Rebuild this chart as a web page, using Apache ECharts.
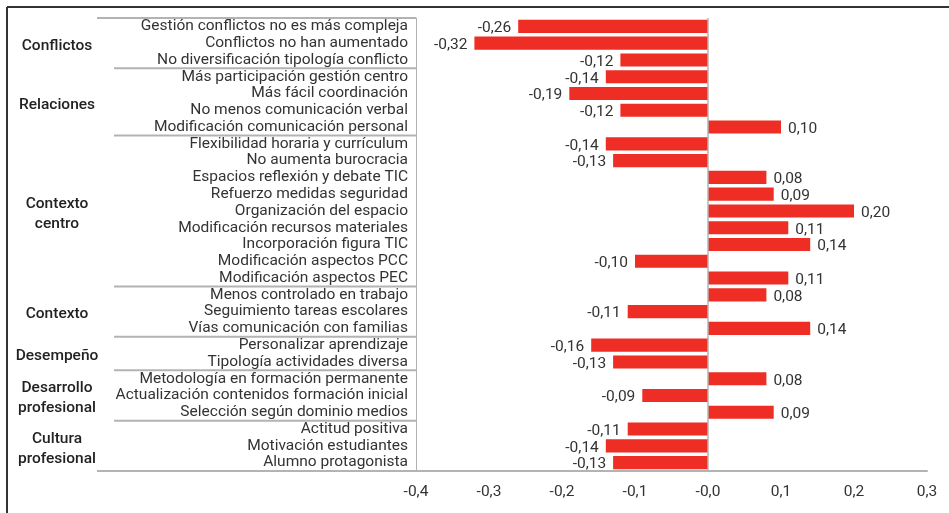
<!DOCTYPE html>
<html>
<head>
<meta charset="utf-8">
<script src="https://cdn.jsdelivr.net/npm/echarts@6/dist/echarts.min.js"></script>
<style>
html,body{margin:0;padding:0;background:#fff;}
#chart{width:949px;height:513px;}
</style>
</head>
<body>
<div id="chart"></div>
<script>
var categories = [
  'Gestión conflictos no es más compleja',
  'Conflictos no han aumentado',
  'No diversificación tipología conflicto',
  'Más participación gestión centro',
  'Más fácil coordinación',
  'No menos comunicación verbal',
  'Modificación comunicación personal',
  'Flexibilidad horaria y currículum',
  'No aumenta burocracia',
  'Espacios reflexión y debate TIC',
  'Refuerzo medidas seguridad',
  'Organización del espacio',
  'Modificación recursos materiales',
  'Incorporación figura TIC',
  'Modificación aspectos PCC',
  'Modificación aspectos PEC',
  'Menos controlado en trabajo',
  'Seguimiento tareas escolares',
  'Vías comunicación con familias',
  'Personalizar aprendizaje',
  'Tipología actividades diversa',
  'Metodología en formación permanente',
  'Actualización contenidos formación inicial',
  'Selección según dominio medios',
  'Actitud positiva',
  'Motivación estudiantes',
  'Alumno protagonista'
];
var values = [-0.26, -0.32, -0.12, -0.14, -0.19, -0.12, 0.10, -0.14, -0.13, 0.08, 0.09, 0.20,
  0.11, 0.14, -0.10, 0.11, 0.08, -0.11, 0.14, -0.16, -0.13, 0.08, -0.09, 0.09, -0.11, -0.14, -0.13];
var groupNames = ['Conflictos', 'Relaciones', 'Contexto\ncentro', 'Contexto', 'Desempeño', 'Desarrollo\nprofesional', 'Cultura\nprofesional'];
var groupSizes = [3, 4, 9, 3, 2, 3, 3];
var xTickLabels = ['-0,4', '-0,3', '-0,2', '-0,1', '-0,0', '0,1', '0,2', '0,3'];

var FONT = 'Roboto';
var FS = 15.5;
var chart = echarts.init(document.getElementById('chart'));

chart.setOption({
  animation: false,
  grid: { left: 416, right: 22, top: 18, bottom: 42 },
  xAxis: {
    type: 'value',
    min: -0.4, max: 0.3, interval: 0.1,
    axisLine: { show: true, onZero: false, lineStyle: { color: '#b3b3b3', width: 2 } },
    axisTick: { show: false },
    splitLine: { show: false },
    axisLabel: {
      margin: 13, color: '#333', fontSize: FS, fontFamily: FONT,
      formatter: function (v) { return xTickLabels[Math.round((v + 0.4) * 10)]; }
    }
  },
  yAxis: {
    type: 'category',
    inverse: true,
    data: categories,
    axisLine: { show: true, onZero: false, lineStyle: { color: '#b3b3b3', width: 1 } },
    axisTick: { show: false },
    axisLabel: { interval: 0, margin: 8, color: '#333', fontSize: FS, fontFamily: FONT, lineHeight: 16 }
  },
  series: [{
    type: 'bar',
    data: values.map(function (v) {
      return {
        value: v,
        label: { position: v < 0 ? 'left' : 'right' }
      };
    }),
    barCategoryGap: '22%',
    itemStyle: { color: '#ee2e24' },
    label: {
      show: true, distance: 7, color: '#333', fontSize: FS, fontFamily: FONT,
      offset: [0, 2],
      formatter: function (p) { return p.value.toFixed(2).replace('.', ','); }
    },
    markLine: {
      silent: true, symbol: 'none', label: { show: false },
      lineStyle: { color: '#b3b3b3', type: 'solid', width: 1.5 },
      data: [{ xAxis: 0 }]
    }
  }]
});

// group labels and separator lines in the label area
var band = (513 - 18 - 42) / categories.length;
var axisX = 416;
var gfx = [];
// outer frame (top and left)
gfx.push({ type: 'line', shape: { x1: 7, y1: 7, x2: 949, y2: 7 }, style: { stroke: '#333', lineWidth: 2 } });
gfx.push({ type: 'line', shape: { x1: 7, y1: 7, x2: 7, y2: 513 }, style: { stroke: '#333', lineWidth: 2 } });

var start = 0;
groupSizes.forEach(function (n, gi) {
  var yTop = chart.convertToPixel({ yAxisIndex: 0 }, categories[start]) - band / 2;
  var yBot = chart.convertToPixel({ yAxisIndex: 0 }, categories[start + n - 1]) + band / 2;
  if (gi === 0) {
    gfx.push({ type: 'line', shape: { x1: 97, y1: yTop, x2: axisX, y2: yTop }, style: { stroke: '#b3b3b3', lineWidth: 2 } });
  }
  var last = gi === groupSizes.length - 1;
  gfx.push({
    type: 'line',
    shape: { x1: last ? 97 : 114, y1: yBot, x2: axisX, y2: yBot },
    style: { stroke: '#b3b3b3', lineWidth: 2 }
  });
  gfx.push({
    type: 'text',
    x: 57, y: (yTop + yBot) / 2 + 3,
    style: {
      text: groupNames[gi], fill: '#222', font: '500 ' + FS + 'px ' + FONT,
      align: 'center', verticalAlign: 'middle', lineHeight: 20
    }
  });
  start += n;
});
chart.setOption({ graphic: gfx });
</script>
</body>
</html>
